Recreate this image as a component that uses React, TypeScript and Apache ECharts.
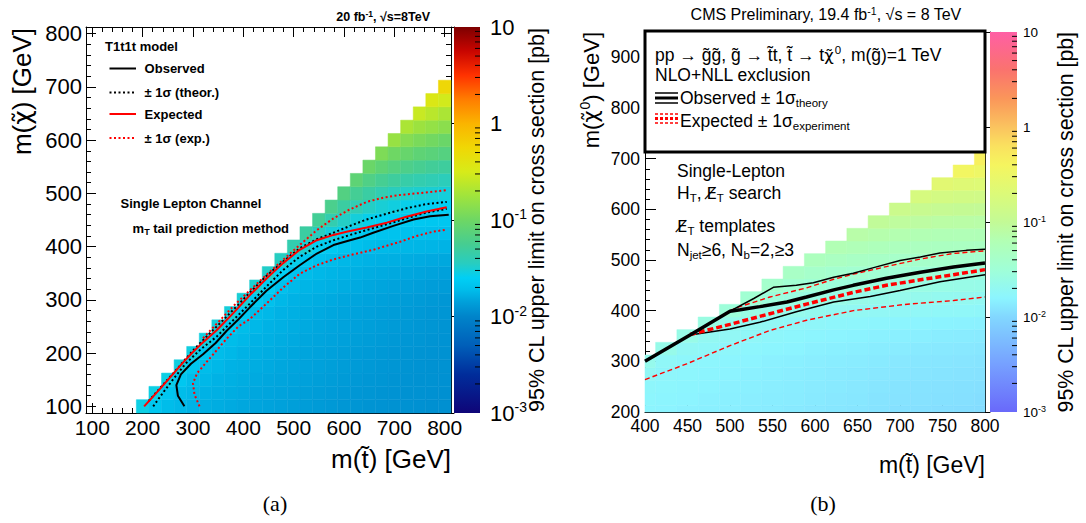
import React, { useEffect, useRef } from "react";
import * as echarts from "echarts";

// ---------------- data ----------------
const binSize = 25;

// (a) 95% CL upper limit on cross section [pb]; row i: m(chi) = leftRowMChi[i], columns m(stop) = m(chi)+100 ... 800
const leftRowMChi = [100, 125, 150, 175, 200, 225, 250, 275, 300, 325, 350, 375, 400, 425, 450, 475, 500, 525, 550, 575, 600, 625, 650, 675, 700];
const leftRowValues: number[][] = [
  [0.028, 0.022, 0.019, 0.018, 0.017, 0.0165, 0.016, 0.0155, 0.015, 0.0147, 0.0144, 0.014, 0.0137, 0.0134, 0.0131, 0.0128, 0.0126, 0.0124, 0.0122, 0.012, 0.0119, 0.0118, 0.0117, 0.0116, 0.0115],
  [0.028, 0.022, 0.019, 0.018, 0.017, 0.0165, 0.016, 0.0155, 0.015, 0.0147, 0.0144, 0.014, 0.0137, 0.0134, 0.0131, 0.0128, 0.0126, 0.0124, 0.0122, 0.012, 0.0119, 0.0118, 0.0117, 0.0116],
  [0.028, 0.022, 0.019, 0.018, 0.017, 0.0165, 0.016, 0.0155, 0.015, 0.0147, 0.0144, 0.014, 0.0137, 0.0134, 0.0131, 0.0128, 0.0126, 0.0124, 0.0122, 0.012, 0.0119, 0.0118, 0.0117],
  [0.029, 0.022, 0.019, 0.018, 0.017, 0.0165, 0.016, 0.0155, 0.015, 0.0147, 0.0144, 0.014, 0.0137, 0.0134, 0.0131, 0.0128, 0.0126, 0.0124, 0.0122, 0.012, 0.0119, 0.0118],
  [0.029, 0.022, 0.019, 0.018, 0.017, 0.0165, 0.016, 0.0155, 0.015, 0.0147, 0.0144, 0.014, 0.0137, 0.0134, 0.0131, 0.0128, 0.0126, 0.0124, 0.0122, 0.012, 0.0119],
  [0.029, 0.022, 0.019, 0.018, 0.017, 0.0165, 0.016, 0.0155, 0.015, 0.0147, 0.0144, 0.014, 0.0137, 0.0134, 0.0131, 0.0128, 0.0126, 0.0124, 0.0122, 0.012],
  [0.03, 0.023, 0.019, 0.018, 0.017, 0.0165, 0.016, 0.0155, 0.015, 0.0147, 0.0144, 0.014, 0.0137, 0.0134, 0.0131, 0.0128, 0.0126, 0.0124, 0.0122],
  [0.03, 0.023, 0.019, 0.018, 0.017, 0.0165, 0.016, 0.0155, 0.015, 0.0147, 0.0144, 0.014, 0.0137, 0.0134, 0.0131, 0.0128, 0.0126, 0.0124],
  [0.031, 0.023, 0.02, 0.018, 0.017, 0.0165, 0.016, 0.0155, 0.015, 0.0147, 0.0144, 0.014, 0.0137, 0.0134, 0.0131, 0.0128, 0.0126],
  [0.032, 0.024, 0.02, 0.0185, 0.0175, 0.017, 0.0165, 0.016, 0.0155, 0.015, 0.0147, 0.0144, 0.0141, 0.0138, 0.0135, 0.0133],
  [0.034, 0.025, 0.021, 0.019, 0.018, 0.0175, 0.017, 0.0165, 0.016, 0.0156, 0.0153, 0.015, 0.0147, 0.0144, 0.0141],
  [0.036, 0.027, 0.022, 0.02, 0.019, 0.018, 0.0175, 0.017, 0.0166, 0.0163, 0.016, 0.0157, 0.0154, 0.0151],
  [0.042, 0.032, 0.026, 0.023, 0.021, 0.02, 0.019, 0.0185, 0.018, 0.0178, 0.0176, 0.0174, 0.0172],
  [0.048, 0.037, 0.03, 0.026, 0.024, 0.022, 0.021, 0.0205, 0.02, 0.0198, 0.0196, 0.0194],
  [0.054, 0.042, 0.035, 0.03, 0.027, 0.025, 0.024, 0.023, 0.0225, 0.022, 0.022],
  [0.06, 0.048, 0.04, 0.035, 0.031, 0.029, 0.027, 0.026, 0.025, 0.025],
  [0.068, 0.055, 0.047, 0.041, 0.037, 0.034, 0.032, 0.031, 0.03],
  [0.08, 0.065, 0.056, 0.05, 0.045, 0.042, 0.04, 0.038],
  [0.095, 0.08, 0.07, 0.062, 0.057, 0.053, 0.05],
  [0.12, 0.1, 0.09, 0.08, 0.075, 0.07],
  [0.16, 0.13, 0.115, 0.105, 0.095],
  [0.2, 0.17, 0.155, 0.14],
  [0.27, 0.23, 0.2],
  [0.35, 0.3],
  [0.55],
];

// (a) exclusion contours [m(stop), m(chi)]
const leftObserved = [[283, 100], [270, 120], [267, 140], [276, 160], [296, 180], [320, 198], [345, 219], [367, 242], [390, 263], [413, 286], [446, 317], [480, 343], [512, 365], [546, 387], [579, 403], [612, 412], [632, 417], [658, 426], [698, 439], [738, 451], [771, 457], [808, 460]];
const leftTheoryUp = [[212, 110], [240, 140], [270, 172], [300, 205], [330, 234], [360, 262], [390, 291], [413, 314], [446, 345], [479, 372], [512, 397], [546, 414], [579, 426], [612, 439], [645, 451], [685, 462], [724, 472], [764, 480], [804, 484]];
const leftTheoryDown = [[221, 100], [240, 125], [260, 150], [285, 180], [314, 206], [347, 231], [380, 262], [413, 293], [446, 325], [479, 356], [512, 381], [546, 400], [579, 412], [612, 422], [645, 431], [685, 442], [724, 453], [764, 464], [804, 471]];
const leftExpected = [[203, 100], [230, 128], [255, 155], [280, 182], [300, 202], [314, 215], [347, 243], [380, 275], [413, 309], [446, 340], [479, 369], [512, 394], [546, 412], [579, 422], [605, 428], [645, 436], [685, 445], [724, 456], [764, 466], [804, 474]];
const leftExpUp = [[320, 228], [354, 262], [380, 288], [413, 318], [446, 347], [479, 375], [512, 403], [546, 431], [579, 453], [612, 470], [645, 484], [678, 492], [711, 497], [744, 500], [777, 503], [804, 506]];
const leftExpDown = [[313, 100], [303, 122], [300, 143], [308, 162], [325, 181], [345, 203], [365, 225], [390, 250], [413, 264], [446, 293], [479, 323], [512, 349], [546, 365], [579, 376], [612, 384], [658, 394], [711, 409], [744, 420], [777, 428], [804, 432]];

// (b) 95% CL upper limit [pb]; row i: m(chi0) = rightRowMChi[i], columns m(stop) = max(400, m(chi0)+100) ... 800
const rightRowMChi = [200, 225, 250, 275, 300, 325, 350, 375, 400, 425, 450, 475, 500, 525, 550, 575, 600, 625, 650, 675, 700];
const rightRowValues: number[][] = [
  [0.016, 0.0155, 0.015, 0.0147, 0.0144, 0.014, 0.0137, 0.0134, 0.013, 0.0127, 0.0124, 0.012, 0.0117, 0.0115, 0.0113, 0.0111, 0.011],
  [0.0165, 0.016, 0.0155, 0.015, 0.0147, 0.0143, 0.014, 0.0137, 0.0133, 0.013, 0.0127, 0.0123, 0.012, 0.0118, 0.0116, 0.0114, 0.0112],
  [0.017, 0.0165, 0.016, 0.0155, 0.015, 0.0147, 0.0143, 0.014, 0.0136, 0.0133, 0.013, 0.0126, 0.0123, 0.0121, 0.0119, 0.0117, 0.0115],
  [0.019, 0.017, 0.0165, 0.016, 0.0155, 0.015, 0.0147, 0.0143, 0.014, 0.0136, 0.0133, 0.013, 0.0127, 0.0124, 0.0122, 0.012, 0.0118],
  [0.022, 0.018, 0.017, 0.0165, 0.016, 0.0155, 0.015, 0.0147, 0.0143, 0.014, 0.0137, 0.0134, 0.013, 0.0128, 0.0126, 0.0124, 0.0122],
  [0.023, 0.019, 0.018, 0.017, 0.0165, 0.016, 0.0155, 0.015, 0.0147, 0.0144, 0.014, 0.0137, 0.0134, 0.0132, 0.013, 0.0128],
  [0.024, 0.02, 0.019, 0.018, 0.017, 0.0165, 0.016, 0.0157, 0.0154, 0.015, 0.0147, 0.0144, 0.0141, 0.0138, 0.0136],
  [0.026, 0.022, 0.02, 0.019, 0.018, 0.0175, 0.017, 0.0167, 0.0164, 0.016, 0.0157, 0.0154, 0.0151, 0.0148],
  [0.03, 0.025, 0.023, 0.022, 0.021, 0.02, 0.0195, 0.019, 0.0187, 0.0184, 0.018, 0.0178, 0.0176],
  [0.034, 0.029, 0.027, 0.025, 0.024, 0.023, 0.0225, 0.022, 0.0215, 0.021, 0.0205, 0.02],
  [0.038, 0.034, 0.031, 0.029, 0.028, 0.027, 0.026, 0.025, 0.0245, 0.024, 0.0235],
  [0.044, 0.04, 0.037, 0.035, 0.033, 0.032, 0.031, 0.03, 0.029, 0.028],
  [0.052, 0.048, 0.045, 0.043, 0.041, 0.04, 0.039, 0.038, 0.037],
  [0.062, 0.058, 0.055, 0.052, 0.05, 0.049, 0.048, 0.047],
  [0.075, 0.07, 0.066, 0.063, 0.061, 0.06, 0.059],
  [0.095, 0.088, 0.083, 0.08, 0.078, 0.076],
  [0.125, 0.115, 0.108, 0.104, 0.1],
  [0.17, 0.155, 0.148, 0.142],
  [0.24, 0.22, 0.21],
  [0.36, 0.33],
  [0.45],
];

// (b) exclusion contours [m(stop), m(chi0)]
const rightObserved = [[400, 300], [453, 352], [500, 399], [512, 402], [535, 408], [567, 417], [590, 427], [622, 441], [645, 450], [684, 464], [724, 476], [763, 486], [800, 494]];
const rightTheoryUp = [[500, 399], [528, 424], [551, 446], [578, 450], [598, 455], [622, 466], [645, 474], [669, 485], [700, 499], [724, 506], [747, 514], [778, 519], [800, 521]];
const rightTheoryDown = [[453, 352], [500, 364], [535, 377], [578, 398], [622, 417], [665, 428], [700, 440], [747, 457], [800, 471]];
const rightExpected = [[453, 353], [500, 373], [547, 394], [590, 413], [645, 436], [684, 450], [724, 461], [763, 471], [800, 481]];
const rightExpUp = [[500, 400], [510, 407], [547, 427], [590, 445], [622, 462], [645, 472], [684, 487], [724, 502], [763, 513], [800, 518]];
const rightExpDown = [[400, 264], [449, 295], [500, 331], [547, 361], [590, 381], [645, 400], [704, 412], [763, 420], [800, 427]];

// colour palettes: [log10(limit), rgb]
type Stop = [number, [number, number, number]];
const leftPalette: Stop[] = [
  [-3.0, [15, 5, 120]], [-2.6, [0, 45, 155]], [-2.3, [0, 95, 185]], [-2.0, [0, 132, 202]],
  [-1.85, [0, 160, 218]], [-1.72, [0, 190, 235]], [-1.6, [0, 207, 245]], [-1.45, [40, 205, 192]],
  [-1.25, [70, 205, 145]], [-1.0, [110, 215, 100]], [-0.75, [160, 228, 60]], [-0.5, [215, 235, 25]],
  [-0.25, [240, 215, 5]], [0.0, [250, 180, 0]], [0.25, [255, 125, 0]], [0.5, [255, 50, 0]],
  [0.75, [200, 5, 0]], [1.0, [125, 0, 0]],
];
const rightPalette: Stop[] = [
  [-3.0, [105, 105, 250]], [-2.5, [118, 160, 255]], [-2.0, [130, 215, 255]], [-1.8, [140, 245, 255]],
  [-1.5, [160, 255, 215]], [-1.2, [178, 255, 180]], [-1.0, [195, 250, 150]], [-0.7, [220, 250, 120]],
  [-0.4, [245, 245, 95]], [-0.2, [250, 225, 95]], [0.0, [250, 195, 95]], [0.3, [250, 150, 90]],
  [0.6, [250, 115, 110]], [1.0, [255, 95, 165]],
];

// ---------------- helpers ----------------
const FONT = "'Liberation Sans', Arial, Helvetica, sans-serif";
const DEJAVU = "'DejaVu Sans', sans-serif";
const SERIF = "'Liberation Serif', 'DejaVu Serif', serif";

function colorAt(stops: Stop[], t: number): string {
  if (t <= stops[0][0]) return `rgb(${stops[0][1].join(",")})`;
  for (let i = 1; i < stops.length; i++) {
    if (t <= stops[i][0]) {
      const [t0, c0] = stops[i - 1];
      const [t1, c1] = stops[i];
      const f = (t - t0) / (t1 - t0);
      const c = c0.map((v, k) => Math.round(v + (c1[k] - v) * f));
      return `rgb(${c.join(",")})`;
    }
  }
  return `rgb(${stops[stops.length - 1][1].join(",")})`;
}
function sampleColors(stops: Stop[], n: number): string[] {
  const out: string[] = [];
  for (let i = 0; i < n; i++) out.push(colorAt(stops, -3 + (4 * i) / (n - 1)));
  return out;
}
function gradientStops(stops: Stop[]) {
  return stops
    .map(([t, c]) => ({ offset: (1 - t) / 4, color: `rgb(${c.join(",")})` }))
    .sort((a, b) => a.offset - b.offset);
}
function buildCells(rowsY: number[], rows: number[][], xMin: number) {
  const out: number[][] = [];
  rows.forEach((row, i) => {
    const y = rowsY[i];
    const x0 = Math.max(xMin, y + 100);
    row.forEach((v, k) => out.push([x0 + k * binSize, y, Math.log10(v)]));
  });
  return out;
}

const cellRender = (params: any, api: any) => {
  const x = api.value(0);
  const y = api.value(1);
  const p0 = api.coord([x - binSize / 2, y + binSize / 2]);
  const p1 = api.coord([x + binSize / 2, y - binSize / 2]);
  const cs = params.coordSys;
  const shape = echarts.graphic.clipRectByRect(
    { x: p0[0], y: p0[1], width: p1[0] - p0[0], height: p1[1] - p0[1] },
    { x: cs.x, y: cs.y, width: cs.width, height: cs.height }
  );
  if (!shape) return null;
  const c = api.visual("color");
  return { type: "rect", shape, style: { fill: c, stroke: c, lineWidth: 0.5 } };
};

const makeBarRender = (stops: Stop[], minorLen: number) => (_params: any, api: any) => {
  const a = api.coord([0, 10]);
  const b = api.coord([1, 0.001]);
  const children: any[] = [
    {
      type: "rect",
      shape: { x: a[0], y: a[1], width: b[0] - a[0], height: b[1] - a[1] },
      style: { fill: new echarts.graphic.LinearGradient(0, 0, 0, 1, gradientStops(stops)) },
    },
  ];
  for (let e = -3; e < 1; e++) {
    for (let m = 2; m <= 9; m++) {
      const p = api.coord([1, m * Math.pow(10, e)]);
      children.push({
        type: "line",
        shape: { x1: b[0] - minorLen, y1: p[1], x2: b[0], y2: p[1] },
        style: { stroke: "#000", lineWidth: 1 },
      });
    }
  }
  return { type: "group", children };
};

const logLabel = (v: number) => {
  const e = Math.round(Math.log10(v));
  if (e === 1) return "10";
  if (e === 0) return "1";
  return `10{sup|${e}}`;
};

const axisBase = (extra: any) => ({
  type: "value",
  axisLine: { show: true, onZero: false, lineStyle: { color: "#000", width: 1 } },
  axisTick: { show: true, inside: true, length: 10, lineStyle: { color: "#000", width: 1 } },
  minorTick: { show: true, splitNumber: 5, length: 5, lineStyle: { color: "#000", width: 1 } },
  splitLine: { show: false },
  minorSplitLine: { show: false },
  ...extra,
});

const line = (x1: number, y1: number, x2: number, y2: number, stroke: string, lineWidth: number, lineDash?: number[]) => ({
  type: "line",
  z: 100,
  shape: { x1, y1, x2, y2 },
  style: { stroke, lineWidth, lineDash: lineDash || null },
});
const text = (x: number, y: number, t: string, s: any, rotation = 0) => ({
  type: "text",
  z: 100,
  x,
  y,
  rotation,
  style: { text: t, fontFamily: FONT, fill: "#000", verticalAlign: "middle", align: "left", ...s },
});

const lineSeries = (data: number[][], axis: number, color: string, width: number, type: any) => ({
  type: "line",
  xAxisIndex: axis,
  yAxisIndex: axis,
  data,
  showSymbol: false,
  symbol: "none",
  silent: true,
  z: 5,
  lineStyle: { color, width, type, cap: "butt" },
});

export default function App() {
  const ref = useRef<HTMLDivElement>(null);
  useEffect(() => {
    if (!ref.current) return;
    const chart = echarts.init(ref.current, undefined, { renderer: "svg" });

    const leftCells = buildCells(leftRowMChi, leftRowValues, 200);
    const rightCells = buildCells(rightRowMChi, rightRowValues, 400);
    const DOT = [2, 2.5];
    const DASH_THICK = [6, 3];
    const DASH_THIN = [5, 3];

    const series: any[] = [
      { type: "custom", xAxisIndex: 0, yAxisIndex: 0, data: leftCells, encode: { x: 0, y: 1 }, renderItem: cellRender, z: 1, silent: true },
      lineSeries(leftExpUp, 0, "#ff0000", 2, DOT),
      lineSeries(leftExpDown, 0, "#ff0000", 2, DOT),
      lineSeries(leftTheoryUp, 0, "#000", 2, DOT),
      lineSeries(leftTheoryDown, 0, "#000", 2, DOT),
      lineSeries(leftExpected, 0, "#ff0000", 2, "solid"),
      lineSeries(leftObserved, 0, "#000", 2, "solid"),
      { type: "custom", xAxisIndex: 2, yAxisIndex: 2, data: [[0.5, 1]], renderItem: makeBarRender(leftPalette, 5), silent: true },
      { type: "custom", xAxisIndex: 3, yAxisIndex: 3, data: rightCells, encode: { x: 0, y: 1 }, renderItem: cellRender, z: 1, silent: true },
      lineSeries(rightExpDown, 3, "#ff0000", 1.4, DASH_THIN),
      lineSeries(rightExpUp, 3, "#ff0000", 1.4, DASH_THIN),
      lineSeries(rightTheoryDown, 3, "#000", 1.5, "solid"),
      lineSeries(rightTheoryUp, 3, "#000", 1.5, "solid"),
      lineSeries(rightExpected, 3, "#ff0000", 3.5, DASH_THICK),
      lineSeries(rightObserved, 3, "#000", 3.5, "solid"),
      { type: "custom", xAxisIndex: 5, yAxisIndex: 5, data: [[0.5, 1]], renderItem: makeBarRender(rightPalette, 5), silent: true },
    ];

    const bold13 = { fontSize: 13, fontWeight: "bold" };
    const sub = (fs: number, extra: any = {}) => ({ fontSize: fs, fontFamily: FONT, verticalAlign: "bottom", lineHeight: 9, ...extra });
    const sup = (fs: number, extra: any = {}) => ({ fontSize: fs, fontFamily: FONT, verticalAlign: "top", lineHeight: 8, ...extra });
    const rightRich = {
      sub: sub(11.5),
      sup: sup(11.5, { padding: [0, 0, 0, 1] }),
      sl: { fontSize: 16.5, fontFamily: DEJAVU },
      gr: { fontSize: 16.5, fontFamily: DEJAVU },
    };

    const graphic: any[] = [
      // ---- panel (a) ----
      text(430, 17, "20 fb{sup|-1}, √s=8TeV", { fontSize: 12.5, fontWeight: "bold", align: "right", lineHeight: 15, rich: { sup: sup(8.5, { fontWeight: "bold" }) } }),
      text(105, 46, "T1t1t model", bold13),
      line(109.5, 68.5, 136, 68.5, "#000", 2),
      text(144.6, 68.5, "Observed", bold13),
      line(109.5, 92.5, 136, 92.5, "#000", 2, DOT),
      text(144.6, 92.5, "± 1σ (theor.)", bold13),
      line(109.5, 114, 136, 114, "#ff0000", 2),
      text(144.6, 114, "Expected", bold13),
      line(109.5, 138, 136, 138, "#ff0000", 2, DOT),
      text(144.6, 138, "± 1σ (exp.)", bold13),
      text(120.5, 203, "Single Lepton Channel", bold13),
      text(132.6, 228, "m{sub|T} tail prediction method", { ...bold13, lineHeight: 16, rich: { sub: sub(9, { fontWeight: "bold" }) } }),
      text(22, 28, "m({gr|χ\u0303}) [GeV]", { fontSize: 26, align: "right", lineHeight: 30, rich: { gr: { fontSize: 25, fontFamily: DEJAVU } } }, Math.PI / 2),
      text(451, 459, "m(t\u0303) [GeV]", { fontSize: 26, align: "right" }),
      text(537, 28, "95% CL upper limit on cross section [pb]", { fontSize: 21.5, align: "right" }, Math.PI / 2),
      text(275, 503, "(a)", { fontSize: 22, fontFamily: SERIF, align: "center" }),
      // ---- panel (b) ----
      text(826, 14, "CMS Preliminary, 19.4 fb{sup|-1}, √s = 8 TeV", { fontSize: 16, align: "center", lineHeight: 18, rich: { sup: sup(10.5) } }),
      { type: "rect", z: 90, shape: { x: 645, y: 31, width: 340, height: 121 }, style: { fill: "#fff", stroke: "#000", lineWidth: 3 } },
      text(655, 55, "pp → g\u0303g\u0303, g\u0303 → t\u0303t, t\u0303 → t{gr|χ\u0303}{sup|0}, m(g\u0303)=1 TeV", { fontSize: 17.5, lineHeight: 22, rich: rightRich }),
      text(655, 75, "NLO+NLL exclusion", { fontSize: 17.5 }),
      line(655, 93, 678, 93, "#000", 1.5),
      line(655, 98, 678, 98, "#000", 3),
      line(655, 103, 678, 103, "#000", 1.5),
      text(680, 98, "Observed ± 1σ{sub|theory}", { fontSize: 17.5, lineHeight: 22, rich: rightRich }),
      line(655, 114, 678, 114, "#ff0000", 1.5, [3, 2]),
      line(655, 118.5, 678, 118.5, "#ff0000", 3, [3, 2]),
      line(655, 123, 678, 123, "#ff0000", 1.5, [3, 2]),
      text(680, 121, "Expected ± 1σ{sub|experiment}", { fontSize: 17.5, lineHeight: 22, rich: rightRich }),
      text(677, 171, "Single-Lepton", { fontSize: 17.5 }),
      text(677, 193, "H{sub|T}, {sl|E\u0338}{sub|T} search", { fontSize: 17.5, lineHeight: 22, rich: rightRich }),
      text(677, 226, "{sl|E\u0338}{sub|T} templates", { fontSize: 17.5, lineHeight: 22, rich: rightRich }),
      text(677, 250, "N{sub|jet}≥6, N{sub|b}=2,≥3", { fontSize: 17.5, lineHeight: 22, rich: rightRich }),
      text(591, 32, "m({gr|χ\u0303}{sup|0}) [GeV]", { fontSize: 22, align: "right", lineHeight: 26, rich: { gr: { fontSize: 21, fontFamily: DEJAVU }, sup: sup(14, { padding: [0, 0, 0, 1] }) } }, Math.PI / 2),
      text(985, 465, "m(t\u0303) [GeV]", { fontSize: 23, align: "right" }),
      text(1066, 32, "95% CL upper limit on cross section [pb]", { fontSize: 21.3, align: "right" }, Math.PI / 2),
      text(823, 503, "(b)", { fontSize: 22, fontFamily: SERIF, align: "center" }),
    ];

    const leftLabel = { show: true, color: "#000", fontFamily: FONT, showMinLabel: false, showMaxLabel: false, hideOverlap: false };
    const option: any = {
      animation: false,
      backgroundColor: "#fff",
      textStyle: { fontFamily: FONT },
      grid: [
        { left: 86, top: 27, width: 365, height: 386, containLabel: false, outerBoundsMode: "none" },
        { left: 454, top: 27, width: 26, height: 386, containLabel: false, outerBoundsMode: "none" },
        { left: 645, top: 32, width: 340, height: 380, containLabel: false, outerBoundsMode: "none" },
        { left: 990, top: 32, width: 27, height: 380, containLabel: false, outerBoundsMode: "none" },
      ],
      xAxis: [
        axisBase({ gridIndex: 0, position: "bottom", min: 87.5, max: 812.5, splitNumber: 7, axisLabel: { ...leftLabel, fontSize: 21, margin: 4 } }),
        axisBase({ gridIndex: 0, position: "top", min: 87.5, max: 812.5, splitNumber: 7, axisLabel: { show: false } }),
        { gridIndex: 1, type: "value", min: 0, max: 1, show: false },
        axisBase({ gridIndex: 2, position: "bottom", min: 400, max: 800, interval: 50, axisTick: { show: true, inside: true, length: 11, lineStyle: { color: "#000" } }, axisLabel: { show: true, color: "#000", fontFamily: FONT, fontSize: 17.5, margin: 5, hideOverlap: false } }),
        axisBase({ gridIndex: 2, position: "top", min: 400, max: 800, interval: 50, axisLabel: { show: false } }),
        { gridIndex: 3, type: "value", min: 0, max: 1, show: false },
      ],
      yAxis: [
        axisBase({ gridIndex: 0, position: "left", min: 87.5, max: 812.5, splitNumber: 7, axisLabel: { ...leftLabel, fontSize: 22, margin: 4 } }),
        axisBase({ gridIndex: 0, position: "right", min: 87.5, max: 812.5, splitNumber: 7, axisLabel: { show: false } }),
        {
          gridIndex: 1, type: "log", logBase: 10, min: 0.001, max: 10, position: "right",
          axisLine: { show: true, lineStyle: { color: "#000", width: 1 } },
          axisTick: { show: true, inside: true, length: 10, lineStyle: { color: "#000" } },
          splitLine: { show: false },
          axisLabel: { show: true, color: "#000", fontFamily: FONT, fontSize: 22, margin: 10, formatter: logLabel, lineHeight: 26, rich: { sup: { fontSize: 14, fontFamily: FONT, verticalAlign: "top", lineHeight: 10, color: "#000" } } },
        },
        axisBase({ gridIndex: 2, position: "left", min: 200, max: 950, interval: 100, axisTick: { show: true, inside: true, length: 11, lineStyle: { color: "#000" } }, axisLabel: { show: true, color: "#000", fontFamily: FONT, fontSize: 17.5, margin: 5, showMaxLabel: false, hideOverlap: false } }),
        axisBase({ gridIndex: 2, position: "right", min: 200, max: 950, interval: 100, axisLabel: { show: false } }),
        {
          gridIndex: 3, type: "log", logBase: 10, min: 0.001, max: 10, position: "right",
          axisLine: { show: true, lineStyle: { color: "#000", width: 1 } },
          axisTick: { show: true, inside: true, length: 8, lineStyle: { color: "#000" } },
          splitLine: { show: false },
          axisLabel: { show: true, color: "#000", fontFamily: FONT, fontSize: 13.5, margin: 6, formatter: logLabel, lineHeight: 16, rich: { sup: { fontSize: 9, fontFamily: FONT, verticalAlign: "top", lineHeight: 6, color: "#000" } } },
        },
      ],
      visualMap: [
        { type: "continuous", show: false, seriesIndex: 0, dimension: 2, min: -3, max: 1, inRange: { color: sampleColors(leftPalette, 41) } },
        { type: "continuous", show: false, seriesIndex: 8, dimension: 2, min: -3, max: 1, inRange: { color: sampleColors(rightPalette, 41) } },
      ],
      series,
      graphic: { elements: graphic },
    };

    chart.setOption(option);
    return () => chart.dispose();
  }, []);

  return (
    <div
      ref={ref}
      style={{ position: "fixed", left: 0, top: 0, width: 1086, height: 523, background: "#fff" }}
    />
  );
}
